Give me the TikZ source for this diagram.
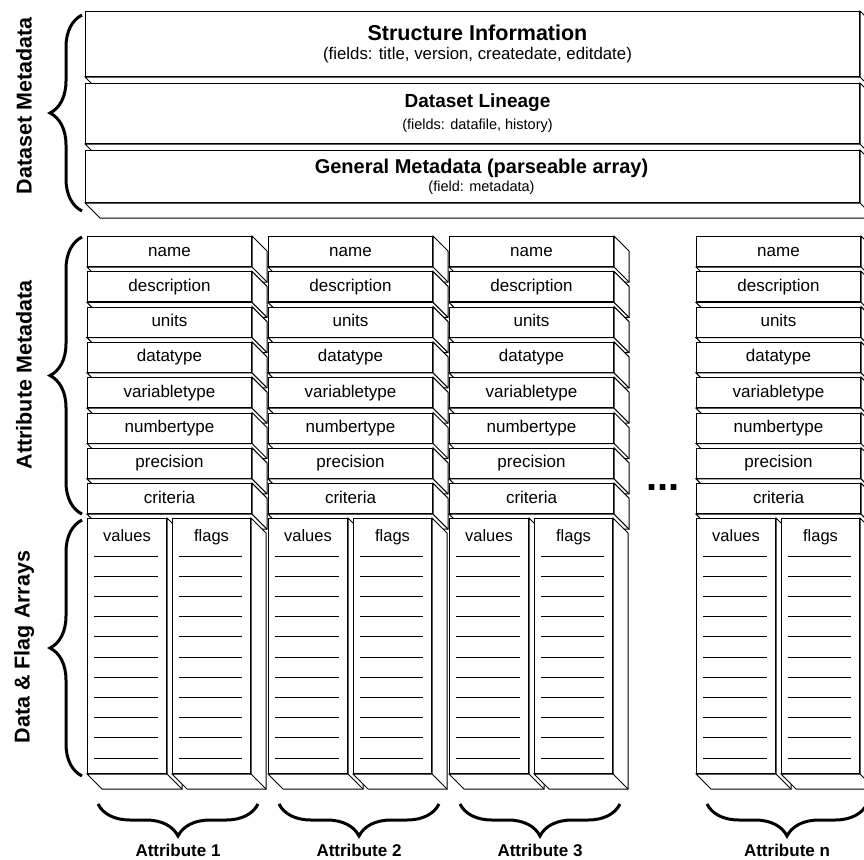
\documentclass[tikz,border=0pt]{standalone}
\usepackage{fontspec}
\setmainfont{Liberation Sans}
\usetikzlibrary{decorations.pathreplacing}

\tikzset{
  slab/.style={draw, fill=white, inner sep=0pt, anchor=north west},
  cell/.style={slab, minimum width=164pt, minimum height=30pt, text height=12.5pt, text depth=3.5pt, font=\fontsize{17}{20}\selectfont},
  col/.style={slab, minimum height=255pt},
  head/.style={anchor=base, font=\fontsize{16.5}{19}\selectfont},
  cbrace/.style={decorate, decoration={brace, amplitude=32pt}, line width=3pt},
  side/.style={font=\fontsize{21.5}{25}\selectfont\bfseries, rotate=90},
}

% side and bottom faces of a box
\newcommand{\slabside}[1]{%
  \draw[fill=white] (#1.north east) -- ++(15,15) -- ([shift={(15,15)}]#1.south east)
    -- ([shift={(15,15)}]#1.south west) -- (#1.south west) -- (#1.south east) -- cycle;
  \draw (#1.south east) -- ++(15,15);}

\begin{document}
\begin{tikzpicture}[x=1pt,y=-1pt,line width=1pt]
\useasboundingbox (0,0) rectangle (864,859);
\clip (0,0) rectangle (864,859);

% dataset metadata
\node[slab, minimum width=774pt, minimum height=65pt] (info) at (85,11) {};
\slabside{info}
\node[font=\fontsize{21.5}{24}\selectfont\bfseries] (infotitle) at ([shift={(5,22)}]info.north) {Structure Information};
\node[font=\fontsize{16.8}{19}\selectfont] (infofields) at ([shift={(5,44)}]info.north) {(fields: title, version, createdate, editdate)};

\node[slab, minimum width=774pt, minimum height=60pt] (lineage) at (85,83) {};
\slabside{lineage}
\node[font=\fontsize{19}{22}\selectfont\bfseries] (lineagetitle) at ([shift={(5,20)}]lineage.north) {Dataset Lineage};
\node[font=\fontsize{14.5}{17}\selectfont] (lineagefields) at ([shift={(5,43)}]lineage.north) {(fields: datafile, history)};

\node[slab, minimum width=774pt, minimum height=52pt] (general) at (85,150) {};
\slabside{general}
\node[font=\fontsize{20}{23}\selectfont\bfseries] (generaltitle) at ([shift={(9,18)}]general.north) {General Metadata (parseable array)};
\node[font=\fontsize{14.5}{17}\selectfont] (generalfields) at ([shift={(9,38)}]general.north) {(field: metadata)};

% attribute columns
\foreach \c/\x/\lab in {1/87/1,2/268/2,3/449/3,4/696/n}
{
  \foreach \f [count=\i from 0] in {name,description,units,datatype,variabletype,numbertype,precision,criteria}
  {
    \node[cell] (f\c-\i) at (\x,236+35.3*\i) {\f};
    \slabside{f\c-\i}
  }
  \node[col, minimum width=79pt] (v\c) at (\x,518) {};
  \slabside{v\c}
  \node[col, minimum width=78pt] (g\c) at (\x+85,518) {};
  \slabside{g\c}
  \node[head] (vt\c) at ([yshift=-23pt]v\c.north) {values};
  \node[head] (gt\c) at ([yshift=-23pt]g\c.north) {flags};
  \foreach \k in {0,...,10}
  {
    \draw ([shift={(7,38+20.2*\k)}]v\c.north west) -- ++(64,0);
    \draw ([shift={(7,38+20.2*\k)}]g\c.north west) -- ++(63,0);
  }
  \draw[cbrace] ([shift={(171,30)}]v\c.south west) -- ([shift={(11,30)}]v\c.south west);
  \node[inner sep=0pt, font=\fontsize{17}{20}\selectfont\bfseries] (attr\c) at ([shift={(91,76)}]v\c.south west) {Attribute \lab};
}

\node[font=\fontsize{40}{40}\selectfont\bfseries] (dots) at (663,488) {...};

% left braces
\draw[cbrace] ([shift={(-3,8)}]general.south west) -- ([shift={(-3,4)}]info.north west);
\draw[cbrace] ([shift={(-5,0)}]f1-7.south west) -- ([shift={(-5,1)}]f1-0.north west);
\draw[cbrace] ([shift={(-5,2)}]v1.south west) -- ([shift={(-5,2)}]v1.north west);

\node[side] (dslabel) at (24,106) {Dataset Metadata};
\node[side] (amlabel) at (24,375) {Attribute Metadata};
\node[side] (dflabel) at (24,647) {Data \& Flag Arrays};
\end{tikzpicture}
\end{document}
